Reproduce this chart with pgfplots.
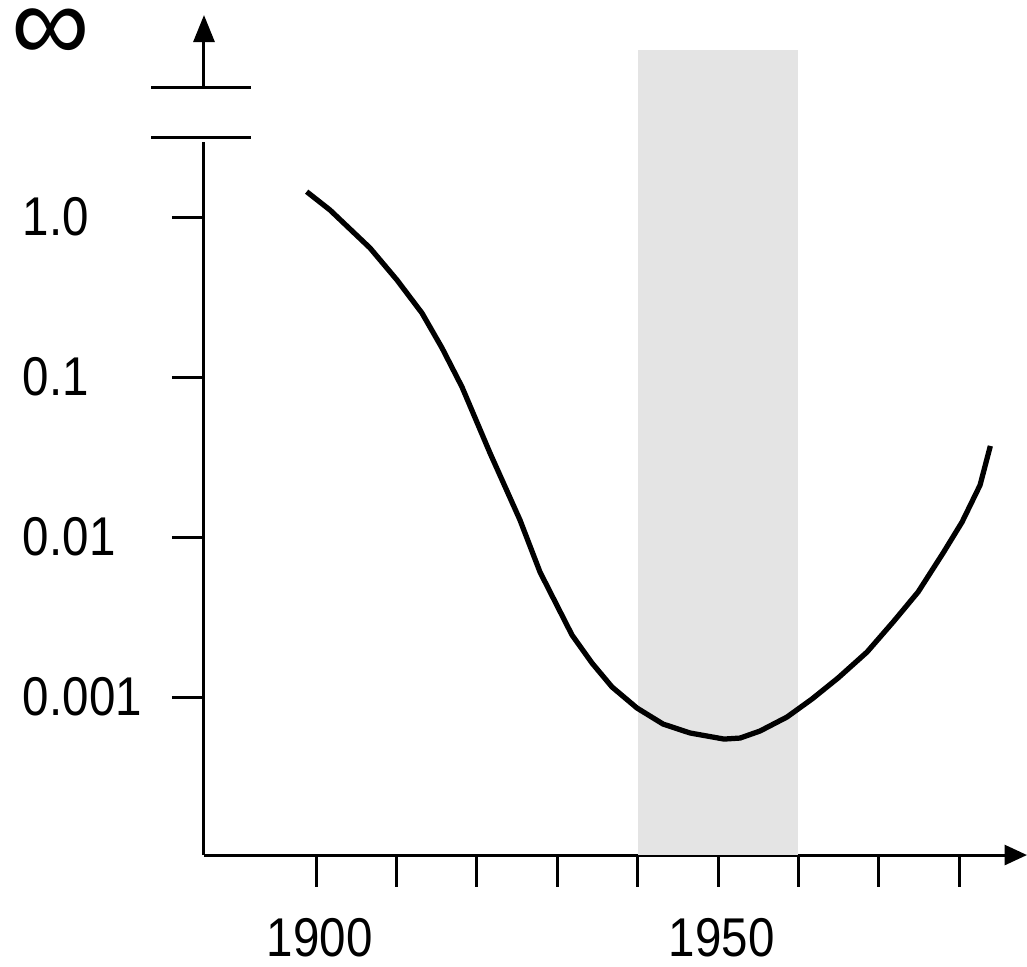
\documentclass[border=0pt]{standalone}
\usepackage{pgfplots}
\pgfplotsset{compat=1.18}
\usetikzlibrary{arrows.meta}
\usepackage{fontspec}
\setmainfont{Liberation Sans}
\definecolor{band}{HTML}{E4E4E4}

% 1 px of the reference = 0.4pt
\begin{document}
\begin{tikzpicture}
\begin{axis}[
  name=ax,
  scale only axis,
  width=329.2pt, height=342pt,
  xmin=1886.07, xmax=1988.43,
  ymode=log, ymin=1.0292e-4, ymax=22.71,
  axis lines=left,
  x axis line style={line width=1.2pt, -{Triangle[length=9pt,width=8pt]}},
  y axis line style={draw=none},
  tick style={line width=1.2pt, black},
  tick align=outside,
  major tick length=12.8pt,
  minor tick num=0,
  minor y tick style={draw=none},
  xtick={1900,1910,1920,1930,1940,1950,1960,1970,1980},
  xticklabels={1900,,,,,1950,,,},
  ytick={0.001,0.01,0.1,1},
  yticklabels={0.001,0.01,0.1,1.0},
  /pgf/number format/assume math mode=true,
  tick label style={font=\fontsize{19}{21}\selectfont, inner sep=0pt, yscale=1.15},
  xticklabel style={anchor=north, yshift=-10.8pt, xshift=1.5pt},
  yticklabel style={anchor=west, xshift=-59.8pt},
  clip=false,
]
% shaded period 1940-1960
\addplot[fill=band, draw=none] coordinates {
  (1940,1.0292e-4) (1940,11.06) (1960,11.06) (1960,1.0292e-4)};

\addplot[black, line width=2.1pt, line join=round, line cap=butt] coordinates {
  (1898.84,1.44) (1901.74,1.106) (1906.72,0.640) (1910.07,0.404)
  (1913.18,0.251) (1915.67,0.152) (1918.16,0.0866) (1921.64,0.0335)
  (1925.37,0.01277) (1927.86,0.00604) (1931.84,0.00244) (1934.33,0.00163)
  (1936.82,0.001155) (1939.93,0.000853) (1943.16,0.000678) (1946.52,0.000596)
  (1950.75,0.000546) (1952.74,0.000554) (1955.22,0.000613) (1958.58,0.00075)
  (1961.69,0.000972) (1964.93,0.001315) (1968.53,0.00191) (1971.77,0.00294)
  (1974.88,0.00453) (1977.99,0.00794) (1980.35,0.0124) (1982.59,0.0211)
  (1983.87,0.0371)};

% broken y axis
\draw[line width=1.2pt] (axis cs:1886.07,1.0292e-4) -- (axis cs:1886.07,2.94);
\draw[line width=1.2pt, -{Triangle[length=10.8pt,width=8.4pt]}]
  (axis cs:1886.07,6.494) -- (axis cs:1886.07,18.3);
\draw[line width=1.2pt] (axis cs:1879.48,6.494) -- (axis cs:1891.97,6.494);
\draw[line width=1.2pt] (axis cs:1879.48,3.118) -- (axis cs:1891.97,3.118);
\node[font=\fontsize{44}{46}\selectfont, inner sep=0pt, yshift=-3pt] at (axis cs:1867.04,15.18) {∞};
\end{axis}
\pgfresetboundingbox
\path ([xshift=-81.6pt,yshift=-44.4pt]ax.south west) rectangle (ax.north east);
\end{tikzpicture}
\end{document}
